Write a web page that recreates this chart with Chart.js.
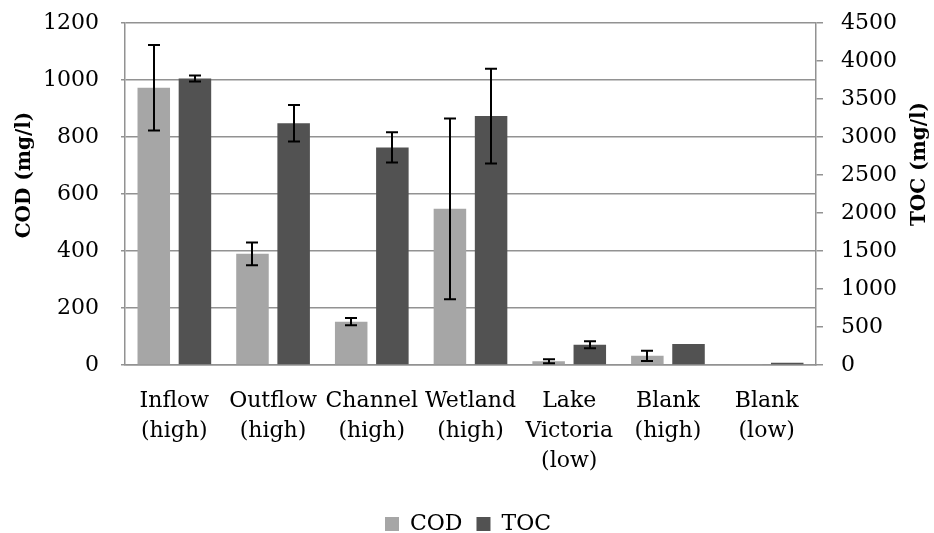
<!DOCTYPE html>
<html>
<head>
<meta charset="utf-8">
<script src="https://cdn.jsdelivr.net/npm/chart.js@4/dist/chart.umd.min.js"></script>
<style>
  html, body { margin: 0; padding: 0; background: #fff; }
  #wrap { width: 934px; height: 533px; position: relative; }
</style>
</head>
<body>
<div id="wrap"><canvas id="c" width="934" height="533"></canvas></div>
<script>
const categories = [
  ['Inflow', '(high)'],
  ['Outflow', '(high)'],
  ['Channel', '(high)'],
  ['Wetland', '(high)'],
  ['Lake', 'Victoria', '(low)'],
  ['Blank', '(high)'],
  ['Blank', '(low)']
];
const codValues = [973, 390, 152, 548, 13, 32, 3];
const codErrors = [150, 40, 13, 317, 7, 18, 0];
const tocValues = [3770, 3182, 2863, 3275, 265, 275, 30];
const tocErrors = [40, 240, 200, 624, 46, 0, 0];
const codTicks = [0, 200, 400, 600, 800, 1000, 1200];
const tocTicks = [0, 500, 1000, 1500, 2000, 2500, 3000, 3500, 4000, 4500];

const GRID = '#929292';
const FONT = 'DejaVu Serif';

Chart.defaults.font.family = FONT;
Chart.defaults.font.size = 22;
Chart.defaults.color = '#000';

const errorBars = {
  id: 'errorBars',
  afterDatasetsDraw(chart) {
    const ctx = chart.ctx;
    ctx.save();
    ctx.strokeStyle = '#000';
    ctx.lineWidth = 2;
    chart.data.datasets.forEach((ds, i) => {
      const meta = chart.getDatasetMeta(i);
      const sc = chart.scales[ds.yAxisID];
      meta.data.forEach((bar, j) => {
        const e = ds.errors[j];
        if (!e) return;
        const v = ds.data[j];
        const x = Math.round(bar.x);
        const yT = sc.getPixelForValue(v + e);
        const yB = sc.getPixelForValue(Math.max(v - e, 0));
        ctx.beginPath();
        ctx.moveTo(x, yT); ctx.lineTo(x, yB);
        ctx.moveTo(x - 6, yT); ctx.lineTo(x + 6, yT);
        ctx.moveTo(x - 6, yB); ctx.lineTo(x + 6, yB);
        ctx.stroke();
      });
    });
    ctx.restore();
  }
};

const axisTitles = {
  id: 'axisTitles',
  afterLayout(chart) {
    const lg = chart.legend;
    if (lg) { lg.top += 12; lg.bottom += 12; }
  },
  afterDraw(chart) {
    const ctx = chart.ctx;
    ctx.save();
    ctx.fillStyle = '#000';
    ctx.font = 'bold 20px "' + FONT + '"';
    ctx.textAlign = 'center';
    ctx.textBaseline = 'middle';
    const items = [
      { text: 'COD (mg/l)', x: 25, y: 175 },
      { text: 'TOC (mg/l)', x: 920, y: 164 }
    ];
    items.forEach(it => {
      ctx.save();
      ctx.translate(it.x, it.y);
      ctx.rotate(-Math.PI / 2);
      ctx.fillText(it.text, 0, 0);
      ctx.restore();
    });
    ctx.restore();
  }
};

function noVPad(scale) { scale.paddingTop = 0; scale.paddingBottom = 0; }

new Chart(document.getElementById('c'), {
  type: 'bar',
  data: {
    labels: categories,
    datasets: [
      { label: 'COD', data: codValues, errors: codErrors, yAxisID: 'yCod',
        backgroundColor: '#a6a6a6', categoryPercentage: 0.834, barPercentage: 0.79 },
      { label: 'TOC', data: tocValues, errors: tocErrors, yAxisID: 'yToc',
        backgroundColor: '#525252', categoryPercentage: 0.834, barPercentage: 0.79 }
    ]
  },
  options: {
    responsive: false,
    animation: false,
    layout: { padding: { left: 21, right: 19, top: 23, bottom: 0 } },
    plugins: {
      legend: {
        position: 'bottom',
        labels: { boxWidth: 14, boxHeight: 14, padding: 14,
                  font: { family: FONT, size: 22 }, color: '#000' }
      },
      tooltip: { enabled: false }
    },
    scales: {
      x: {
        grid: { display: false },
        border: { display: true, color: GRID, width: 1.5 },
        ticks: { padding: 13, font: { family: FONT, size: 22, lineHeight: 1.364 },
                 maxRotation: 0, autoSkip: false },
        afterFit(scale) { scale.height -= 2; }
      },
      yCod: {
        position: 'left',
        min: 0, max: 1200,
        afterBuildTicks(scale) { scale.ticks = codTicks.map(v => ({ value: v })); },
        afterFit: noVPad,
        grid: { color: GRID, lineWidth: 1.5, tickLength: 4, drawTicks: true },
        border: { display: true, color: GRID, width: 1.5 },
        ticks: { padding: 22, font: { family: FONT, size: 22 }, callback: v => String(v) }
      },
      yToc: {
        position: 'right',
        min: 0, max: 4500,
        afterBuildTicks(scale) { scale.ticks = tocTicks.map(v => ({ value: v })); },
        afterFit: noVPad,
        grid: { drawOnChartArea: false, color: GRID, lineWidth: 1.5, tickLength: 7, drawTicks: true },
        border: { display: true, color: GRID, width: 1.5 },
        ticks: { padding: 18, font: { family: FONT, size: 22 }, callback: v => String(v) }
      }
    }
  },
  plugins: [errorBars, axisTitles]
});
</script>
</body>
</html>
